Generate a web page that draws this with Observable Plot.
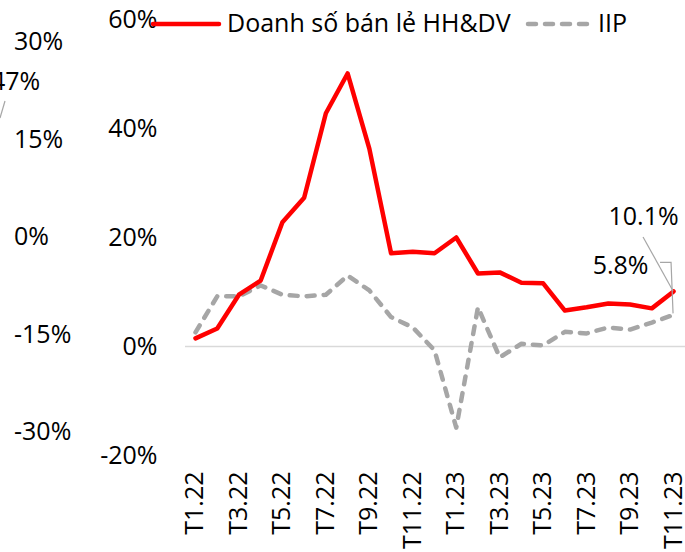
<!DOCTYPE html>
<html>
<head>
<meta charset="utf-8">
<script src="https://cdn.jsdelivr.net/npm/d3@7"></script>
<script src="https://cdn.jsdelivr.net/npm/@observablehq/plot@0.6"></script>
<style>
  html, body { margin: 0; padding: 0; background: #fff; }
  #wrap { position: relative; width: 685px; height: 552px; overflow: hidden; font-family: "Open Sans", sans-serif; color: #000; }
  #wrap svg.plot { position: absolute; left: 0; top: 0; }
  .lbl { position: absolute; font-size: 25px; line-height: 1; white-space: nowrap; }
</style>
</head>
<body>
<div id="wrap"></div>
<script>
const months = ["T1.22","T2.22","T3.22","T4.22","T5.22","T6.22","T7.22","T8.22","T9.22","T10.22","T11.22","T12.22",
                "T1.23","T2.23","T3.23","T4.23","T5.23","T6.23","T7.23","T8.23","T9.23","T10.23","T11.23"];
const retail = [1.5, 3.3, 9.5, 12.1, 22.8, 27.3, 42.8, 50.1, 36.3, 17.1, 17.4, 17.1,
                20.0, 13.4, 13.6, 11.7, 11.6, 6.6, 7.2, 7.9, 7.7, 7.0, 10.1];
const iip = [2.6, 9.2, 9.2, 11.2, 9.5, 9.2, 9.5, 13.0, 10.3, 5.4, 3.5, -0.7,
             -14.9, 7.2, -2.0, 0.5, 0.2, 2.7, 2.4, 3.5, 3.1, 4.4, 5.8];
const yTicks = [-20, 0, 20, 40, 60];
const leftAxisValues = [30, 15, 0, -15, -30];
const seriesNames = ["Doanh số bán lẻ HH&DV", "IIP"];
const endLabels = ["10.1%", "5.8%"];

const data = months.map((m, i) => ({i, month: m, retail: retail[i], iip: iip[i]}));
const last = data[data.length - 1];

const RED = "#ff0000", GRAY = "#a6a6a6";

const chart = Plot.plot({
  width: 685, height: 552,
  marginTop: 19, marginBottom: 97, marginLeft: 185, marginRight: 0,
  style: {fontFamily: "Open Sans, sans-serif", fontSize: "25px", color: "#000", background: "transparent", overflow: "visible"},
  x: {type: "linear", domain: [-0.46, 22.55]},
  y: {domain: [-20, 60]},
  marks: [
    Plot.ruleY([0], {stroke: "#d9d9d9", strokeWidth: 1.5}),
    Plot.axisY({ticks: yTicks, tickFormat: d => d + "%", tickSize: 0, tickPadding: 28, label: null, fontSize: 25}),
    Plot.axisX({ticks: d3.range(0, months.length, 2), tickFormat: i => months[i], tickRotate: -90, tickSize: 0, tickPadding: 16, label: null, fontSize: 25}),
    Plot.line(data, {x: "i", y: "iip", stroke: GRAY, strokeWidth: 4.5, strokeDasharray: "8,9", strokeLinecap: "round", strokeLinejoin: "round"}),
    Plot.line(data, {x: "i", y: "retail", stroke: RED, strokeWidth: 4.5, strokeLinejoin: "round", strokeLinecap: "round"}),
    Plot.text([last], {x: "i", y: "retail", text: () => endLabels[0], dx: -30, dy: -74, fontSize: 25, fill: "#000"}),
    Plot.text([last], {x: "i", y: "iip", text: () => endLabels[1], dx: -53, dy: -49, fontSize: 25, fill: "#000"})
  ]
});
chart.classList.add("plot");
const wrap = document.getElementById("wrap");
wrap.appendChild(chart);

// leader lines for end labels, anchored on scaled data points
const sx = chart.scale("x"), sy = chart.scale("y");
const svg = d3.select(chart);
const rx = sx.apply(last.i), ry = sy.apply(last.retail), gy = sy.apply(last.iip);
svg.append("path")
  .attr("d", `M${rx - 30},${ry - 54}L${rx},${ry}`)
  .attr("stroke", GRAY).attr("stroke-width", 1.2).attr("fill", "none");
svg.append("path")
  .attr("d", `M${rx - 13},${gy - 52}H${rx - 2}L${rx},${gy - 1}`)
  .attr("stroke", GRAY).attr("stroke-width", 1.2).attr("fill", "none");

// Legend (HTML overlay)
const legend = document.createElement("div");
legend.innerHTML = `
  <svg style="position:absolute;left:150px;top:14px" width="72" height="20"><line x1="3" y1="10" x2="69" y2="10" stroke="${RED}" stroke-width="4.5" stroke-linecap="round"/></svg>
  <div class="lbl" style="left:227px;top:10px">${seriesNames[0]}</div>
  <svg style="position:absolute;left:522px;top:14px" width="76" height="20"><line x1="6" y1="10" x2="70" y2="10" stroke="${GRAY}" stroke-width="4.5" stroke-dasharray="8,9" stroke-linecap="round"/></svg>
  <div class="lbl" style="left:598px;top:10px">${seriesNames[1]}</div>`;
wrap.appendChild(legend);

// Cropped secondary axis from the neighbouring chart
const leftY = d3.scaleLinear([30, -30], [42, 432]);
leftAxisValues.forEach(v => {
  const d = document.createElement("div");
  d.className = "lbl";
  d.style.left = "14px";
  d.style.top = (leftY(v) - 14) + "px";
  d.textContent = v + "%";
  wrap.appendChild(d);
});
const cut = document.createElement("div");
cut.className = "lbl";
cut.style.left = "-9px"; cut.style.top = "68px";
cut.textContent = "47%";
wrap.appendChild(cut);
const cutLine = document.createElementNS("http://www.w3.org/2000/svg", "svg");
cutLine.setAttribute("width", "10"); cutLine.setAttribute("height", "20");
cutLine.style.position = "absolute"; cutLine.style.left = "0px"; cutLine.style.top = "100px";
cutLine.innerHTML = `<line x1="5" y1="1" x2="0" y2="18" stroke="${GRAY}" stroke-width="1.2"/>`;
wrap.appendChild(cutLine);
</script>
</body>
</html>
